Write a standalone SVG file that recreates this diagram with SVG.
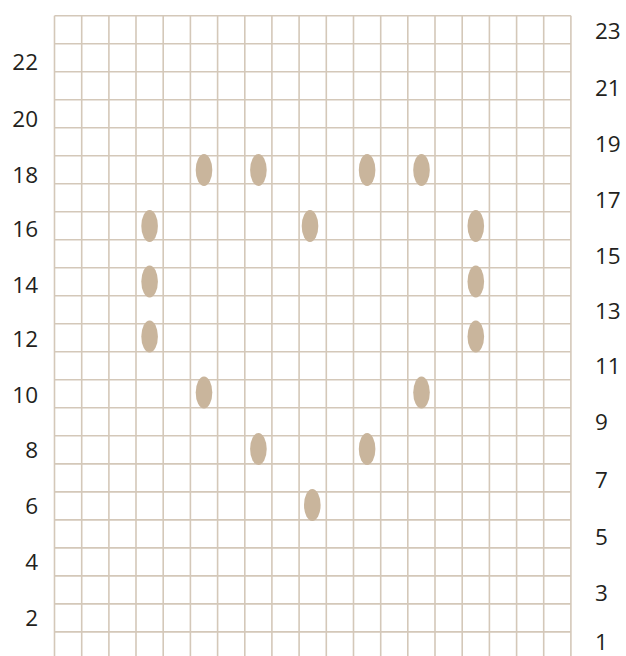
<svg xmlns="http://www.w3.org/2000/svg" width="626" height="656" viewBox="0 0 626 656">
<style>
.g{stroke:#d4c8b9;stroke-width:1.6;fill:none}
.o{fill:#c9b59c}
.l{font-family:"Open Sans","Liberation Sans",sans-serif;font-size:22.5px;fill:#231f20}
.r{text-anchor:end}
</style>
<rect width="626" height="656" fill="#ffffff"/>
<g id="grid" class="g">
<path d="M54.5 15.7V656M81.7 15.7V656M108.9 15.7V656M136 15.7V656M163.2 15.7V656M190.4 15.7V656M217.6 15.7V656M244.8 15.7V656M271.9 15.7V656M299.1 15.7V656M326.3 15.7V656M353.5 15.7V656M380.7 15.7V656M407.8 15.7V656M435 15.7V656M462.2 15.7V656M489.4 15.7V656M516.6 15.7V656M543.7 15.7V656M570.9 15.7V656"/>
<path d="M54.5 15.7H570.9M54.5 43.7H570.9M54.5 71.7H570.9M54.5 99.7H570.9M54.5 127.7H570.9M54.5 155.8H570.9M54.5 183.8H570.9M54.5 211.8H570.9M54.5 239.8H570.9M54.5 267.8H570.9M54.5 295.8H570.9M54.5 323.8H570.9M54.5 351.8H570.9M54.5 379.8H570.9M54.5 407.8H570.9M54.5 435.8H570.9M54.5 463.9H570.9M54.5 491.9H570.9M54.5 519.9H570.9M54.5 547.9H570.9M54.5 575.9H570.9M54.5 603.9H570.9M54.5 631.9H570.9"/>
</g>
<g id="stitches" class="o">
<ellipse cx="204" cy="170" rx="8.3" ry="16"/>
<ellipse cx="258.4" cy="170" rx="8.3" ry="16"/>
<ellipse cx="367.1" cy="170" rx="8.3" ry="16"/>
<ellipse cx="421.5" cy="170" rx="8.3" ry="16"/>
<ellipse cx="149.6" cy="226" rx="8.3" ry="16"/>
<ellipse cx="310" cy="226" rx="8.3" ry="16"/>
<ellipse cx="475.8" cy="226" rx="8.3" ry="16"/>
<ellipse cx="149.6" cy="281.5" rx="8.3" ry="16"/>
<ellipse cx="475.8" cy="281.5" rx="8.3" ry="16"/>
<ellipse cx="149.6" cy="336.5" rx="8.3" ry="16"/>
<ellipse cx="475.8" cy="336.5" rx="8.3" ry="16"/>
<ellipse cx="204" cy="392.5" rx="8.3" ry="16"/>
<ellipse cx="421.5" cy="392.5" rx="8.3" ry="16"/>
<ellipse cx="258.4" cy="449" rx="8.3" ry="16"/>
<ellipse cx="367.1" cy="449" rx="8.3" ry="16"/>
<ellipse cx="312.3" cy="505" rx="8.3" ry="16"/>
</g>
<g id="left-labels" class="l r">
<text x="38" y="69.5">22</text>
<text x="38" y="126.5">20</text>
<text x="38" y="182.5">18</text>
<text x="38" y="236.5">16</text>
<text x="38" y="292.5">14</text>
<text x="38" y="346.5">12</text>
<text x="38" y="402.5">10</text>
<text x="38" y="457.5">8</text>
<text x="38" y="513.5">6</text>
<text x="38" y="569.5">4</text>
<text x="38" y="625.5">2</text>
</g>
<g id="right-labels" class="l">
<text x="595" y="39">23</text>
<text x="595" y="96">21</text>
<text x="595" y="151.5">19</text>
<text x="595" y="208">17</text>
<text x="595" y="264">15</text>
<text x="595" y="318.5">13</text>
<text x="595" y="373.5">11</text>
<text x="595" y="430">9</text>
<text x="595" y="488">7</text>
<text x="595" y="545">5</text>
<text x="595" y="600.5">3</text>
<text x="595" y="650">1</text>
</g>
</svg>
